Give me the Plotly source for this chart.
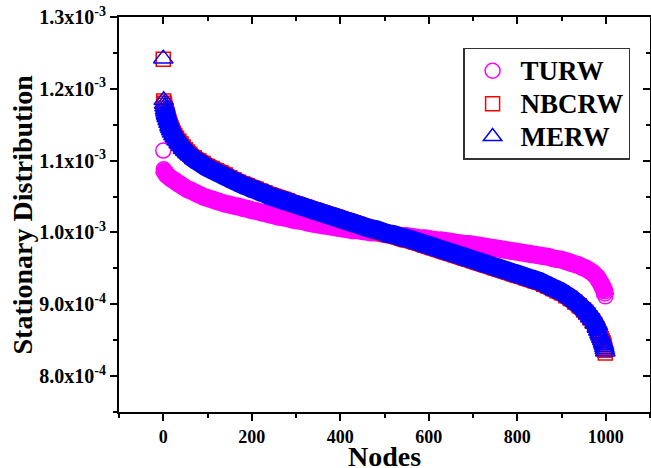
import plotly.graph_objects as go

# Node index (x) shared by all series
nodes = [0, 1, 2, 3, 4, 5, 6, 7, 8, 10, 12, 14, 16, 18, 20, 23, 26, 30, 35, 40, 45, 50, 55,
         60, 70, 80, 90, 100, 110, 120, 130, 140, 150, 160, 170, 180, 190, 200, 210, 220, 230,
         240, 250, 260, 270, 280, 290, 300, 310, 320, 330, 340, 350, 360, 370, 380, 390, 400,
         410, 420, 430, 440, 450, 460, 470, 480, 490, 500, 510, 520, 530, 540, 550, 560, 570,
         580, 590, 600, 610, 620, 630, 640, 650, 660, 670, 680, 690, 700, 710, 720, 730, 740,
         750, 760, 770, 780, 790, 800, 810, 820, 830, 840, 850, 860, 870, 880, 890, 900, 910,
         920, 930, 940, 950,
         955, 960, 965, 970, 975, 980, 983, 986, 988, 990, 992, 994, 995, 996, 997, 998, 999]

# Stationary distribution values, in units of 1e-3
turw = [1.114, 1.088, 1.086, 1.085, 1.084, 1.083, 1.082, 1.081, 1.080, 1.079, 1.078, 1.077,
        1.076, 1.075, 1.074, 1.073, 1.072, 1.070, 1.068, 1.066, 1.064, 1.062, 1.060,
        1.059, 1.056, 1.053, 1.050, 1.048, 1.046, 1.044, 1.042, 1.040, 1.039, 1.037, 1.036,
        1.034, 1.033, 1.031, 1.030, 1.028, 1.027, 1.025, 1.024, 1.022, 1.021, 1.020, 1.018,
        1.017, 1.016, 1.015, 1.013, 1.012, 1.011, 1.010, 1.009, 1.008, 1.007, 1.006, 1.005,
        1.004, 1.003, 1.003, 1.002, 1.001, 1.000, 1.000, 0.999, 0.998, 0.997, 0.997, 0.996,
        0.995, 0.995, 0.994, 0.993, 0.992, 0.992, 0.991, 0.990, 0.989, 0.989, 0.988, 0.987,
        0.986, 0.985, 0.984, 0.984, 0.983, 0.982, 0.981, 0.980, 0.979, 0.978, 0.977, 0.976,
        0.975, 0.974, 0.973, 0.972, 0.971, 0.970, 0.969, 0.968, 0.967, 0.966, 0.964, 0.963,
        0.962, 0.960, 0.958, 0.956, 0.954, 0.951,
        0.950, 0.948, 0.946, 0.944, 0.941, 0.938, 0.935, 0.932, 0.930, 0.928, 0.925, 0.923,
        0.921, 0.920, 0.918, 0.915, 0.911]

nbcrw = [1.241, 1.183, 1.180, 1.177, 1.173, 1.170, 1.168, 1.166, 1.163, 1.159, 1.155, 1.151,
         1.148, 1.145, 1.142, 1.138, 1.135, 1.131, 1.127, 1.123, 1.119, 1.115, 1.112,
         1.109, 1.104, 1.100, 1.096, 1.092, 1.089, 1.086, 1.083, 1.080, 1.076, 1.073, 1.070,
         1.067, 1.065, 1.062, 1.060, 1.057, 1.055, 1.052, 1.050, 1.048, 1.046, 1.044, 1.041,
         1.039, 1.037, 1.035, 1.033, 1.031, 1.029, 1.027, 1.025, 1.023, 1.021, 1.019, 1.017,
         1.015, 1.013, 1.011, 1.009, 1.007, 1.005, 1.003, 1.001, 0.999, 0.998, 0.996, 0.994,
         0.992, 0.991, 0.989, 0.987, 0.985, 0.983, 0.981, 0.979, 0.977, 0.975, 0.973, 0.971,
         0.969, 0.967, 0.965, 0.963, 0.961, 0.959, 0.957, 0.955, 0.953, 0.951, 0.949, 0.947,
         0.945, 0.943, 0.941, 0.939, 0.937, 0.935, 0.933, 0.931, 0.928, 0.925, 0.922, 0.919,
         0.916, 0.912, 0.908, 0.903, 0.898, 0.892,
         0.889, 0.885, 0.881, 0.877, 0.872, 0.866, 0.862, 0.858, 0.855, 0.852, 0.849, 0.846,
         0.844, 0.842, 0.839, 0.836, 0.832]

merw = [1.242, 1.184, 1.179, 1.175, 1.171, 1.168, 1.165, 1.163, 1.160, 1.156, 1.152, 1.148,
        1.145, 1.142, 1.139, 1.135, 1.132, 1.128, 1.124, 1.120, 1.116, 1.113, 1.110,
        1.107, 1.102, 1.098, 1.094, 1.090, 1.087, 1.084, 1.081, 1.078, 1.075, 1.072, 1.069,
        1.066, 1.064, 1.061, 1.059, 1.056, 1.054, 1.051, 1.049, 1.047, 1.045, 1.043, 1.041,
        1.039, 1.037, 1.035, 1.033, 1.031, 1.029, 1.027, 1.025, 1.023, 1.021, 1.019, 1.017,
        1.015, 1.013, 1.011, 1.009, 1.007, 1.005, 1.004, 1.002, 1.000, 0.998, 0.997, 0.995,
        0.993, 0.992, 0.990, 0.988, 0.986, 0.984, 0.982, 0.980, 0.978, 0.976, 0.974, 0.972,
        0.970, 0.968, 0.966, 0.964, 0.962, 0.960, 0.958, 0.956, 0.954, 0.952, 0.950, 0.948,
        0.946, 0.944, 0.942, 0.940, 0.938, 0.936, 0.934, 0.932, 0.929, 0.926, 0.923, 0.920,
        0.917, 0.913, 0.909, 0.904, 0.899, 0.893,
        0.890, 0.886, 0.882, 0.878, 0.873, 0.867, 0.863, 0.859, 0.856, 0.853, 0.850, 0.847,
        0.845, 0.843, 0.840, 0.837, 0.834]

series_names = ["TURW", "NBCRW", "MERW"]
y_ticks = [0.0008, 0.0009, 0.0010, 0.0011, 0.0012, 0.0013]
y_ticktext = ["8.0x10<sup>-4</sup>", "9.0x10<sup>-4</sup>", "1.0x10<sup>-3</sup>",
              "1.1x10<sup>-3</sup>", "1.2x10<sup>-3</sup>", "1.3x10<sup>-3</sup>"]
y_minor = [0.00075, 0.00085, 0.00095, 0.00105, 0.00115, 0.00125]
x_ticks = [0, 200, 400, 600, 800, 1000]
x_minor = [-100, 100, 300, 500, 700, 900, 1100]

FONT = "Liberation Serif"


def scale(vals):
    return [v * 1e-3 for v in vals]


styles = [
    dict(name=series_names[0], vals=turw, color="#FF00FF", symbol="circle-open", size=15,
         band=18, start=1, stop=len(nodes)),
    dict(name=series_names[1], vals=nbcrw, color="#FF0000", symbol="square-open", size=14,
         band=19, start=4, stop=len(nodes) - 9),
    dict(name=series_names[2], vals=merw, color="#0000FF", symbol="triangle-up-open", size=17,
         band=19, start=4, stop=len(nodes) - 9),
]

fig = go.Figure()
for s in styles:
    yv = scale(s["vals"])
    # dense band formed by the overlapping markers
    fig.add_trace(go.Scatter(
        x=nodes[s["start"]:s["stop"]], y=yv[s["start"]:s["stop"]], mode="lines",
        line=dict(color=s["color"], width=s["band"], shape="spline", smoothing=0.8,
                  simplify=False),
        showlegend=False, hoverinfo="skip"))
    fig.add_trace(go.Scatter(
        x=nodes, y=yv, mode="markers",
        name="<span style='font-size:27px'>" + s["name"] + "</span>",
        marker=dict(symbol=s["symbol"], size=s["size"], color=s["color"],
                    line=dict(color=s["color"], width=1.5))))

# dummy trace for the mirrored top/right axes
fig.add_trace(go.Scatter(x=[None], y=[None], xaxis="x2", yaxis="y2", showlegend=False,
                         hoverinfo="skip"))

axis_common = dict(showline=True, linecolor="black", linewidth=2, showgrid=False,
                   zeroline=False, tickcolor="black", tickwidth=2, ticklen=7,
                   automargin=False)
minor_common = dict(ticklen=4, tickwidth=2, tickcolor="black", tickmode="array",
                    showgrid=False)
tickfont_x = dict(family=FONT, size=18, color="black", weight="bold")
tickfont_y = dict(family=FONT, size=20, color="black", weight="bold")
title_font = dict(family=FONT, size=28, color="black", weight="bold")

fig.update_layout(
    width=651, height=468,
    margin=dict(l=119, r=1, t=17, b=56),
    paper_bgcolor="white", plot_bgcolor="white",
    showlegend=True,
    legend=dict(x=0.648, y=0.922, xanchor="left", yanchor="top",
                bgcolor="white", bordercolor="#333333", borderwidth=1.5,
                font=dict(family=FONT, size=23, color="black", weight="bold"),
                itemsizing="trace", itemwidth=46, tracegroupgap=0),
    xaxis=dict(range=[-100, 1100], tickmode="array", tickvals=x_ticks, ticks="outside",
               tickfont=tickfont_x,
               minor=dict(ticks="outside", tickvals=x_minor, **minor_common),
               **axis_common),
    yaxis=dict(range=[0.00075, 0.0013], tickmode="array", tickvals=y_ticks,
               ticktext=y_ticktext, ticks="outside", tickfont=tickfont_y,
               minor=dict(ticks="outside", tickvals=y_minor, **minor_common),
               **axis_common),
    xaxis2=dict(range=[-100, 1100], overlaying="x", side="top", anchor="y2",
                tickmode="array", tickvals=x_ticks, ticks="inside", showticklabels=False,
                minor=dict(ticks="inside", tickvals=x_minor, **minor_common),
                **axis_common),
    yaxis2=dict(range=[0.00075, 0.0013], overlaying="y", side="right", anchor="x2",
                tickmode="array", tickvals=y_ticks, ticks="inside", showticklabels=False,
                minor=dict(ticks="inside", tickvals=y_minor, **minor_common),
                **axis_common),
    annotations=[
        dict(text="Nodes", xref="paper", yref="paper", x=0.5, y=0, xanchor="center",
             yanchor="middle", yshift=-44, showarrow=False, font=title_font),
        dict(text="Stationary Distribution", xref="paper", yref="paper", x=0, y=0.5,
             xanchor="center", yanchor="middle", xshift=-97, textangle=-90,
             showarrow=False, font=title_font),
    ],
)

fig.write_html("out.html", config={"displayModeBar": False},
               post_script="document.body.style.margin='0px';"
                           "document.body.style.overflow='hidden';")
